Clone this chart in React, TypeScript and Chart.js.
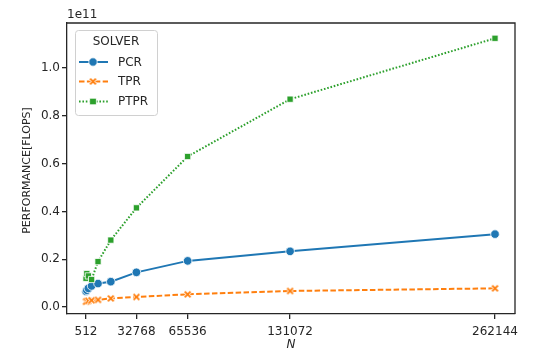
import React, { useEffect, useRef } from "react";
import { Chart, registerables } from "chart.js";
Chart.register(...registerables);

const N = [512, 1024, 2048, 4096, 8192, 16384, 32768, 65536, 131072, 262144];
const PCR = [6.5e9, 7.0e9, 7.8e9, 8.8e9, 9.8e9, 1.06e10, 1.45e10, 1.93e10, 2.33e10, 3.05e10];
const TPR = [2.2e9, 2.4e9, 2.6e9, 2.8e9, 3.0e9, 3.6e9, 4.2e9, 5.3e9, 6.7e9, 7.8e9];
const PTPR = [1.2e10, 1.4e10, 1.3e10, 1.15e10, 1.9e10, 2.8e10, 4.15e10, 6.3e10, 8.7e10, 1.125e11];
const X_TICKS = [512, 32768, 65536, 131072, 262144];
const Y_TICKS = [0, 0.2e11, 0.4e11, 0.6e11, 0.8e11, 1.0e11];
const SERIES = ["PCR", "TPR", "PTPR"];

const BLUE = "#1f77b4";
const ORANGE = "#ff7f0e";
const GREEN = "#2ca02c";
const INK = "#262626";
const FONT = "'DejaVu Sans', sans-serif";

function makeXMarker(): HTMLCanvasElement {
  const c = document.createElement("canvas");
  c.width = 11;
  c.height = 11;
  const g = c.getContext("2d")!;
  const m = 5.5;
  const d = 2.9;
  g.lineCap = "butt";
  g.strokeStyle = "#ffffff";
  g.lineWidth = 3.2;
  g.beginPath();
  g.moveTo(m - d, m - d); g.lineTo(m + d, m + d);
  g.moveTo(m + d, m - d); g.lineTo(m - d, m + d);
  g.stroke();
  g.strokeStyle = ORANGE;
  g.lineWidth = 1.9;
  g.beginPath();
  g.moveTo(m - d, m - d); g.lineTo(m + d, m + d);
  g.moveTo(m + d, m - d); g.lineTo(m - d, m + d);
  g.stroke();
  return c;
}

const pts = (ys: number[]) => N.map((n, i) => ({ x: n, y: ys[i] }));

export default function App() {
  const ref = useRef<HTMLCanvasElement>(null);
  useEffect(() => {
    const xMarker = makeXMarker();
    const overlay = {
      id: "overlay",
      afterDraw(chart: any) {
        const ctx = chart.ctx as CanvasRenderingContext2D;
        const a = chart.chartArea;
        ctx.save();
        ctx.strokeStyle = INK;
        ctx.lineWidth = 1.3;
        ctx.beginPath();
        ctx.moveTo(a.left, a.top);
        ctx.lineTo(a.right, a.top);
        ctx.lineTo(a.right, a.bottom);
        ctx.stroke();
        ctx.fillStyle = INK;
        ctx.font = `12px ${FONT}`;
        ctx.textAlign = "left";
        ctx.textBaseline = "alphabetic";
        ctx.fillText("1e11", a.left, a.top - 5);
        ctx.font = `italic 12px ${FONT}`;
        ctx.textAlign = "center";
        ctx.textBaseline = "middle";
        ctx.fillText("N", (a.left + a.right) / 2, 345);
        ctx.save();
        ctx.translate(27, (a.top + a.bottom) / 2 + 2);
        ctx.rotate(-Math.PI / 2);
        ctx.font = `11px ${FONT}`;
        ctx.fillText("PERFORMANCE[FLOPS]", 0, 0);
        ctx.restore();
        const lx = 75, ly = 30, lw = 82, lh = 85;
        ctx.fillStyle = "rgba(255,255,255,0.85)";
        ctx.strokeStyle = "#d0d0d0";
        ctx.lineWidth = 1;
        ctx.beginPath();
        (ctx as any).roundRect(lx + 0.5, ly + 0.5, lw, lh, 3);
        ctx.fill();
        ctx.stroke();
        ctx.fillStyle = INK;
        ctx.font = `12px ${FONT}`;
        ctx.textAlign = "center";
        ctx.textBaseline = "middle";
        ctx.fillText("SOLVER", 116, 42);
        const rows = [
          { y: 62, color: BLUE, dash: [] as number[], label: SERIES[0], m: "o" },
          { y: 81.5, color: ORANGE, dash: [5.5, 2.4], label: SERIES[1], m: "x" },
          { y: 101.5, color: GREEN, dash: [1.6, 1.8], label: SERIES[2], m: "s" },
        ];
        for (const r of rows) {
          ctx.strokeStyle = r.color;
          ctx.lineWidth = 2;
          ctx.setLineDash(r.dash);
          ctx.beginPath();
          ctx.moveTo(79, r.y);
          ctx.lineTo(108, r.y);
          ctx.stroke();
          ctx.setLineDash([]);
          const cx = 93;
          if (r.m === "o") {
            ctx.fillStyle = r.color;
            ctx.strokeStyle = "#fff";
            ctx.lineWidth = 0.8;
            ctx.beginPath();
            ctx.arc(cx, r.y, 4.2, 0, Math.PI * 2);
            ctx.fill();
            ctx.stroke();
          } else if (r.m === "x") {
            ctx.drawImage(xMarker, cx - 5.5, r.y - 5.5);
          } else {
            ctx.fillStyle = r.color;
            ctx.strokeStyle = "#fff";
            ctx.lineWidth = 0.8;
            ctx.fillRect(cx - 3.3, r.y - 3.3, 6.6, 6.6);
            ctx.strokeRect(cx - 3.3, r.y - 3.3, 6.6, 6.6);
          }
          ctx.fillStyle = INK;
          ctx.font = `12px ${FONT}`;
          ctx.textAlign = "left";
          ctx.fillText(r.label, 118, r.y + 0.5);
        }
        ctx.restore();
      },
    };

    const chart = new Chart(ref.current!, {
      type: "line",
      data: {
        datasets: [
          {
            label: SERIES[0],
            data: pts(PCR),
            borderColor: BLUE,
            backgroundColor: BLUE,
            borderWidth: 2,
            pointStyle: "circle",
            pointRadius: 4.3,
            pointBorderColor: "#ffffff",
            pointBorderWidth: 0.8,
            pointBackgroundColor: BLUE,
            order: 3,
          },
          {
            label: SERIES[1],
            data: pts(TPR),
            borderColor: ORANGE,
            backgroundColor: ORANGE,
            borderWidth: 2,
            borderDash: [5.5, 2.4],
            pointStyle: xMarker as any,
            pointRadius: 5,
            order: 2,
          },
          {
            label: SERIES[2],
            data: pts(PTPR),
            borderColor: GREEN,
            backgroundColor: GREEN,
            borderWidth: 2,
            borderDash: [1.6, 1.8],
            pointStyle: "rect",
            pointRadius: 4.4,
            pointBorderColor: "#ffffff",
            pointBorderWidth: 0.8,
            pointBackgroundColor: GREEN,
            order: 1,
          },
        ],
      },
      options: {
        responsive: false,
        animation: false,
        layout: { padding: { top: 23, right: 25, left: 0, bottom: 0 } },
        plugins: { legend: { display: false }, tooltip: { enabled: false } },
        scales: {
          x: {
            type: "linear",
            min: -11642,
            max: 274937,
            afterBuildTicks: (s: any) => {
              s.ticks = X_TICKS.map((v) => ({ value: v }));
            },
            afterFit: (s: any) => {
              s.height = 40;
            },
            ticks: {
              callback: (v: any) => String(v),
              font: { family: FONT, size: 12 },
              color: INK,
              padding: 6,
              maxRotation: 0,
              autoSkip: false,
            },
            grid: {
              display: true,
              drawOnChartArea: false,
              drawTicks: true,
              tickLength: 5,
              color: INK,
              lineWidth: 1.3,
            },
            border: { display: true, color: INK, width: 1.3 },
          },
          y: {
            type: "linear",
            min: -0.0294e11,
            max: 1.189e11,
            afterBuildTicks: (s: any) => {
              s.ticks = Y_TICKS.map((v) => ({ value: v }));
            },
            afterFit: (s: any) => {
              s.width = 67;
            },
            ticks: {
              callback: (v: any) => (Number(v) / 1e11).toFixed(1),
              font: { family: FONT, size: 12 },
              color: INK,
              padding: 2,
              autoSkip: false,
            },
            grid: {
              display: true,
              drawOnChartArea: false,
              drawTicks: true,
              tickLength: 5,
              color: INK,
              lineWidth: 1.3,
            },
            border: { display: true, color: INK, width: 1.3 },
          },
        },
      },
      plugins: [overlay],
    });
    return () => chart.destroy();
  }, []);

  return (
    <div style={{ position: "absolute", left: 0, top: 0, width: 540, height: 354, background: "#fff" }}>
      <canvas ref={ref} width={540} height={354} />
    </div>
  );
}
